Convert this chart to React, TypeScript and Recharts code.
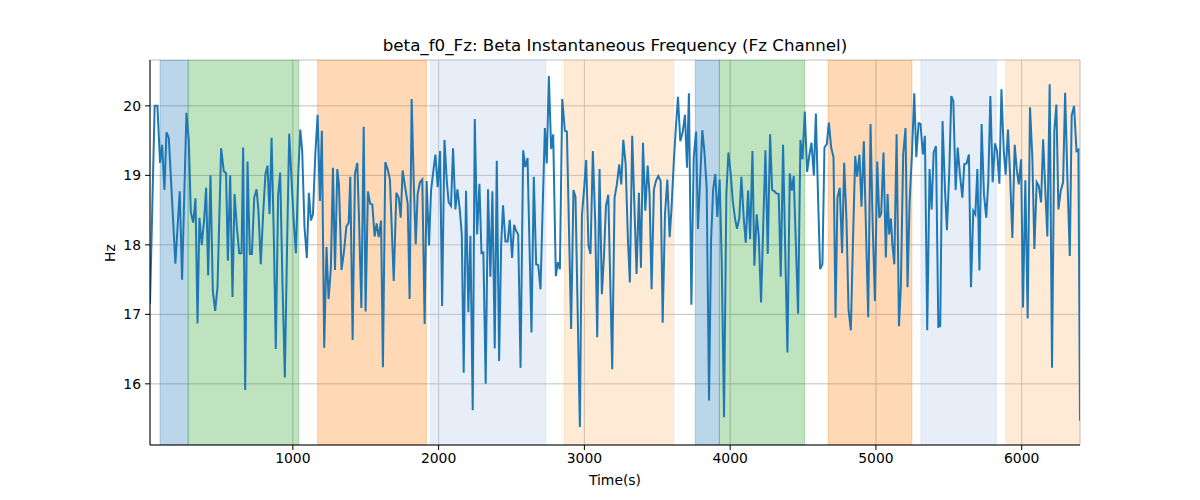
import React from 'react';
import { LineChart, Line, XAxis, YAxis, CartesianGrid, ReferenceArea } from 'recharts';

// time (s) and beta instantaneous frequency (Hz)
const times = [
  20, 52, 71, 89, 103, 119, 133, 149, 194, 224, 240, 270, 286, 300, 316, 332, 346, 359, 375, 391,
  405, 419, 435, 451, 467, 483, 508, 526, 542, 554, 570, 586, 600, 616, 632, 648, 659, 673, 689, 705,
  719, 735, 751, 764, 780, 796, 812, 826, 840, 854, 870, 883, 899, 913, 929, 945, 961, 975, 989, 1005,
  1021, 1037, 1051, 1064, 1080, 1096, 1110, 1124, 1138, 1154, 1170, 1186, 1199, 1215, 1231, 1245, 1261, 1275, 1289, 1305,
  1316, 1334, 1350, 1367, 1383, 1394, 1410, 1426, 1442, 1453, 1470, 1486, 1499, 1515, 1531, 1545, 1561, 1575, 1589, 1605,
  1618, 1634, 1650, 1666, 1692, 1710, 1726, 1740, 1753, 1769, 1788, 1801, 1815, 1829, 1843, 1856, 1872, 1888, 1904, 1918,
  1934, 1948, 1963, 1978, 1994, 2010, 2024, 2040, 2056, 2069, 2085, 2099, 2115, 2129, 2145, 2159, 2172, 2188, 2204, 2218,
  2234, 2248, 2264, 2280, 2294, 2307, 2323, 2339, 2355, 2369, 2385, 2399, 2415, 2429, 2442, 2458, 2474, 2488, 2504, 2518,
  2532, 2546, 2562, 2580, 2594, 2610, 2637, 2653, 2669, 2683, 2699, 2714, 2729, 2742, 2756, 2772, 2786, 2804, 2818, 2832,
  2848, 2866, 2880, 2909, 2925, 2939, 2969, 2983, 2999, 3012, 3028, 3042, 3058, 3074, 3088, 3104, 3120, 3134, 3148, 3164,
  3191, 3207, 3223, 3239, 3253, 3267, 3283, 3299, 3312, 3328, 3342, 3358, 3374, 3388, 3402, 3418, 3434, 3447, 3461, 3477,
  3491, 3507, 3523, 3537, 3553, 3569, 3585, 3598, 3615, 3628, 3642, 3658, 3674, 3690, 3704, 3717, 3734, 3750, 3766, 3779,
  3809, 3823, 3839, 3855, 3869, 3883, 3898, 3912, 3928, 3942, 3958, 3974, 3988, 4004, 4018, 4034, 4047, 4063, 4077, 4093,
  4107, 4123, 4137, 4153, 4166, 4182, 4196, 4212, 4228, 4242, 4258, 4274, 4288, 4304, 4317, 4333, 4347, 4363, 4377, 4393,
  4409, 4423, 4436, 4466, 4482, 4496, 4512, 4528, 4544, 4558, 4574, 4588, 4604, 4617, 4633, 4647, 4663, 4677, 4693, 4709,
  4723, 4736, 4752, 4768, 4782, 4798, 4812, 4828, 4842, 4858, 4871, 4887, 4901, 4917, 4933, 4947, 4963, 4977, 4993, 5009,
  5023, 5036, 5052, 5068, 5080, 5091, 5103, 5112, 5126, 5142, 5158, 5171, 5187, 5203, 5217, 5231, 5247, 5263, 5277, 5293,
  5306, 5322, 5336, 5352, 5368, 5382, 5396, 5412, 5428, 5441, 5457, 5474, 5487, 5503, 5517, 5531, 5547, 5561, 5576, 5593,
  5606, 5622, 5638, 5652, 5668, 5682, 5696, 5710, 5725, 5741, 5757, 5771, 5785, 5801, 5817, 5831, 5847, 5861, 5877, 5890,
  5906, 5920, 5936, 5952, 5966, 5980, 5996, 6009, 6025, 6041, 6057, 6073, 6087, 6103, 6117, 6133, 6147, 6163, 6176, 6192,
  6208, 6224, 6238, 6252, 6268, 6284, 6298, 6314, 6330, 6343, 6359, 6376, 6389, 6400,
];

const freqs = [
  17.15, 20.0, 20.0, 19.18, 19.44, 18.79, 19.62, 19.54, 17.73, 18.77, 17.5, 19.9, 19.5, 18.47, 18.32, 18.67, 16.87, 18.39, 18.0, 18.35,
  18.82, 17.56, 19.0, 17.34, 17.05, 17.39, 19.39, 19.06, 19.03, 17.77, 19.0, 17.25, 18.73, 18.25, 17.88, 17.88, 19.4, 15.91, 19.2, 17.87,
  17.87, 18.68, 18.8, 18.49, 17.72, 18.44, 19.02, 19.14, 18.44, 19.54, 18.06, 16.5, 18.71, 19.04, 17.43, 16.09, 18.06, 19.6, 19.02, 18.37,
  17.88, 19.02, 19.66, 19.35, 18.25, 17.81, 18.75, 18.35, 18.44, 19.3, 19.87, 18.63, 19.64, 16.52, 17.97, 17.22, 17.67, 19.11, 17.64, 19.09,
  18.87, 17.64, 17.89, 18.26, 18.32, 18.98, 16.63, 19.02, 19.18, 18.44, 17.09, 19.7, 17.04, 18.77, 18.59, 18.58, 18.12, 18.31, 18.11, 18.35,
  16.24, 19.19, 19.09, 18.94, 17.48, 18.75, 18.68, 18.39, 19.07, 18.85, 18.59, 17.22, 20.1, 18.92, 18.01, 18.73, 18.9, 18.94, 16.86, 18.92,
  17.99, 18.78, 19.05, 19.3, 18.83, 19.35, 17.12, 19.51, 18.92, 18.61, 18.56, 19.39, 18.51, 18.8, 18.51, 18.15, 16.16, 18.78, 17.03, 18.13,
  15.62, 19.81, 18.15, 18.88, 17.88, 17.89, 16.0, 18.8, 17.54, 18.77, 16.51, 19.21, 16.33, 18.01, 18.57, 18.05, 18.05, 18.36, 17.81, 18.29,
  18.2, 18.15, 16.23, 19.36, 19.12, 19.25, 16.74, 18.98, 17.72, 17.71, 17.36, 18.55, 19.68, 19.17, 20.43, 19.38, 19.59, 17.55, 17.75, 17.65,
  20.1, 19.64, 19.63, 16.79, 18.79, 18.69, 15.38, 18.42, 18.83, 19.22, 17.99, 17.87, 19.35, 18.35, 16.67, 19.09, 17.29, 17.83, 18.56, 18.72,
  16.21, 18.68, 18.87, 19.16, 18.87, 19.51, 19.16, 18.06, 17.46, 19.57, 18.63, 17.58, 18.75, 17.67, 19.47, 18.49, 19.14, 18.73, 17.36, 18.8,
  18.92, 18.99, 18.92, 16.88, 18.44, 18.94, 18.11, 18.54, 19.26, 19.7, 20.13, 19.49, 19.62, 19.87, 19.11, 20.18, 17.14, 19.26, 19.63, 18.23,
  19.65, 19.35, 18.82, 15.76, 18.06, 18.79, 19.02, 18.4, 18.94, 17.77, 15.52, 18.73, 19.33, 19.02, 18.63, 18.37, 18.23, 18.39, 18.98, 18.39,
  18.03, 18.78, 18.08, 19.35, 17.7, 18.44, 18.13, 17.17, 18.36, 19.36, 17.87, 19.59, 18.79, 18.77, 18.74, 18.73, 17.54, 19.44, 17.99, 16.45,
  19.03, 18.78, 18.99, 17.01, 19.51, 19.23, 19.92, 19.05, 19.3, 19.47, 19.0, 19.89, 18.61, 17.65, 17.72, 19.4, 19.45, 19.76, 19.4, 19.26,
  16.95, 18.68, 18.82, 17.88, 19.18, 18.35, 17.07, 16.77, 18.01, 19.28, 18.98, 19.3, 18.55, 19.49, 18.11, 16.96, 19.74, 18.35, 17.19, 19.2,
  18.39, 18.45, 19.33, 17.82, 18.73, 18.15, 18.38, 18.03, 17.72, 19.59, 16.83, 17.39, 19.3, 19.68, 17.39, 18.61, 19.3, 20.18, 19.26, 19.75,
  19.74, 19.3, 19.57, 16.77, 19.09, 18.51, 19.33, 19.42, 16.82, 16.83, 19.78, 18.78, 18.21, 19.04, 20.14, 20.07, 18.79, 19.4, 19.02, 18.68,
  19.16, 19.17, 19.3, 17.39, 18.49, 18.44, 19.09, 17.63, 19.74, 18.73, 18.39, 18.92, 20.14, 18.9, 19.46, 19.35, 18.88, 20.24, 19.35, 19.01,
  19.66, 19.02, 18.1, 19.44, 19.09, 18.87, 19.23, 17.1, 18.93, 16.94, 19.98, 19.26, 17.94, 18.9, 18.85, 18.61, 19.52, 18.73, 18.12, 20.31,
  16.23, 19.64, 20.02, 18.51, 18.78, 18.9, 20.19, 18.92, 17.84, 19.86, 20.0, 19.35, 19.37, 15.47,
];

// shaded segments (seconds) and their kind
const spanStarts = [89, 282, 1170, 1944, 2861, 3761, 3926, 4672, 5309, 5890];
const spanEnds = [282, 1041, 1916, 2736, 3613, 3926, 4512, 5247, 5826, 6400];
const spanKinds = ['blue', 'green', 'orange', 'lightblue', 'lightorange', 'blue', 'green', 'orange', 'lightblue', 'lightorange'];

const xTicks = [1000, 2000, 3000, 4000, 5000, 6000];
const yTicks = [16, 17, 18, 19, 20];

const SPAN_COLORS: { [k: string]: string } = {
  blue: '#1f77b4',
  green: '#2ca02c',
  orange: '#ff7f0e',
  lightblue: '#aec7e8',
  lightorange: '#ffbb78',
};

const FONT = '"DejaVu Sans", sans-serif';

const data = times.map((t, i) => ({ t, hz: freqs[i] }));

export default function App() {
  const tickStyle = { fontSize: 13.9, fill: '#000', fontFamily: FONT };
  return (
    <div style={{ position: 'absolute', left: 0, top: 0, width: 1200, height: 500, background: '#fff', fontFamily: FONT }}>
      <LineChart width={1200} height={500} data={data} margin={{ top: 60, right: 120, bottom: 25, left: 90 }}>
        <CartesianGrid stroke="#b0b0b0" strokeWidth={0.8} />
        {spanStarts.map((s, i) => (
          <ReferenceArea
            key={i}
            x1={s}
            x2={spanEnds[i]}
            fill={SPAN_COLORS[spanKinds[i]]}
            fillOpacity={0.3}
            stroke={SPAN_COLORS[spanKinds[i]]}
            strokeOpacity={0.3}
            ifOverflow="hidden"
          />
        ))}
        <XAxis
          dataKey="t"
          type="number"
          domain={[20, 6400]}
          ticks={xTicks}
          allowDataOverflow
          height={30}
          tick={tickStyle}
          tickSize={5}
          tickMargin={3}
          stroke="#000"
        />
        <XAxis xAxisId="top" orientation="top" type="number" domain={[20, 6400]} height={0} tick={false} tickLine={false} stroke="#000" />
        <YAxis
          type="number"
          domain={[15.12, 20.66]}
          ticks={yTicks}
          allowDataOverflow
          width={60}
          tick={tickStyle}
          tickSize={5}
          tickMargin={4}
          stroke="#000"
        />
        <YAxis yAxisId="right" orientation="right" domain={[15.12, 20.66]} width={0} tick={false} tickLine={false} stroke="#000" />
        <Line
          dataKey="hz"
          type="linear"
          stroke="#1f77b4"
          strokeWidth={2}
          dot={false}
          isAnimationActive={false}
        />
      </LineChart>
      <div style={{ position: 'absolute', top: 35, left: 150, width: 930, textAlign: 'center', fontSize: 16.7, color: '#000' }}>
        beta_f0_Fz: Beta Instantaneous Frequency (Fz Channel)
      </div>
      <div style={{ position: 'absolute', top: 472, left: 150, width: 930, textAlign: 'center', fontSize: 13.9, color: '#000' }}>
        Time(s)
      </div>
      <div
        style={{
          position: 'absolute',
          left: 110,
          top: 253,
          fontSize: 13.9,
          color: '#000',
          transform: 'translate(-50%, -50%) rotate(-90deg)',
          whiteSpace: 'nowrap',
        }}
      >
        Hz
      </div>
    </div>
  );
}
